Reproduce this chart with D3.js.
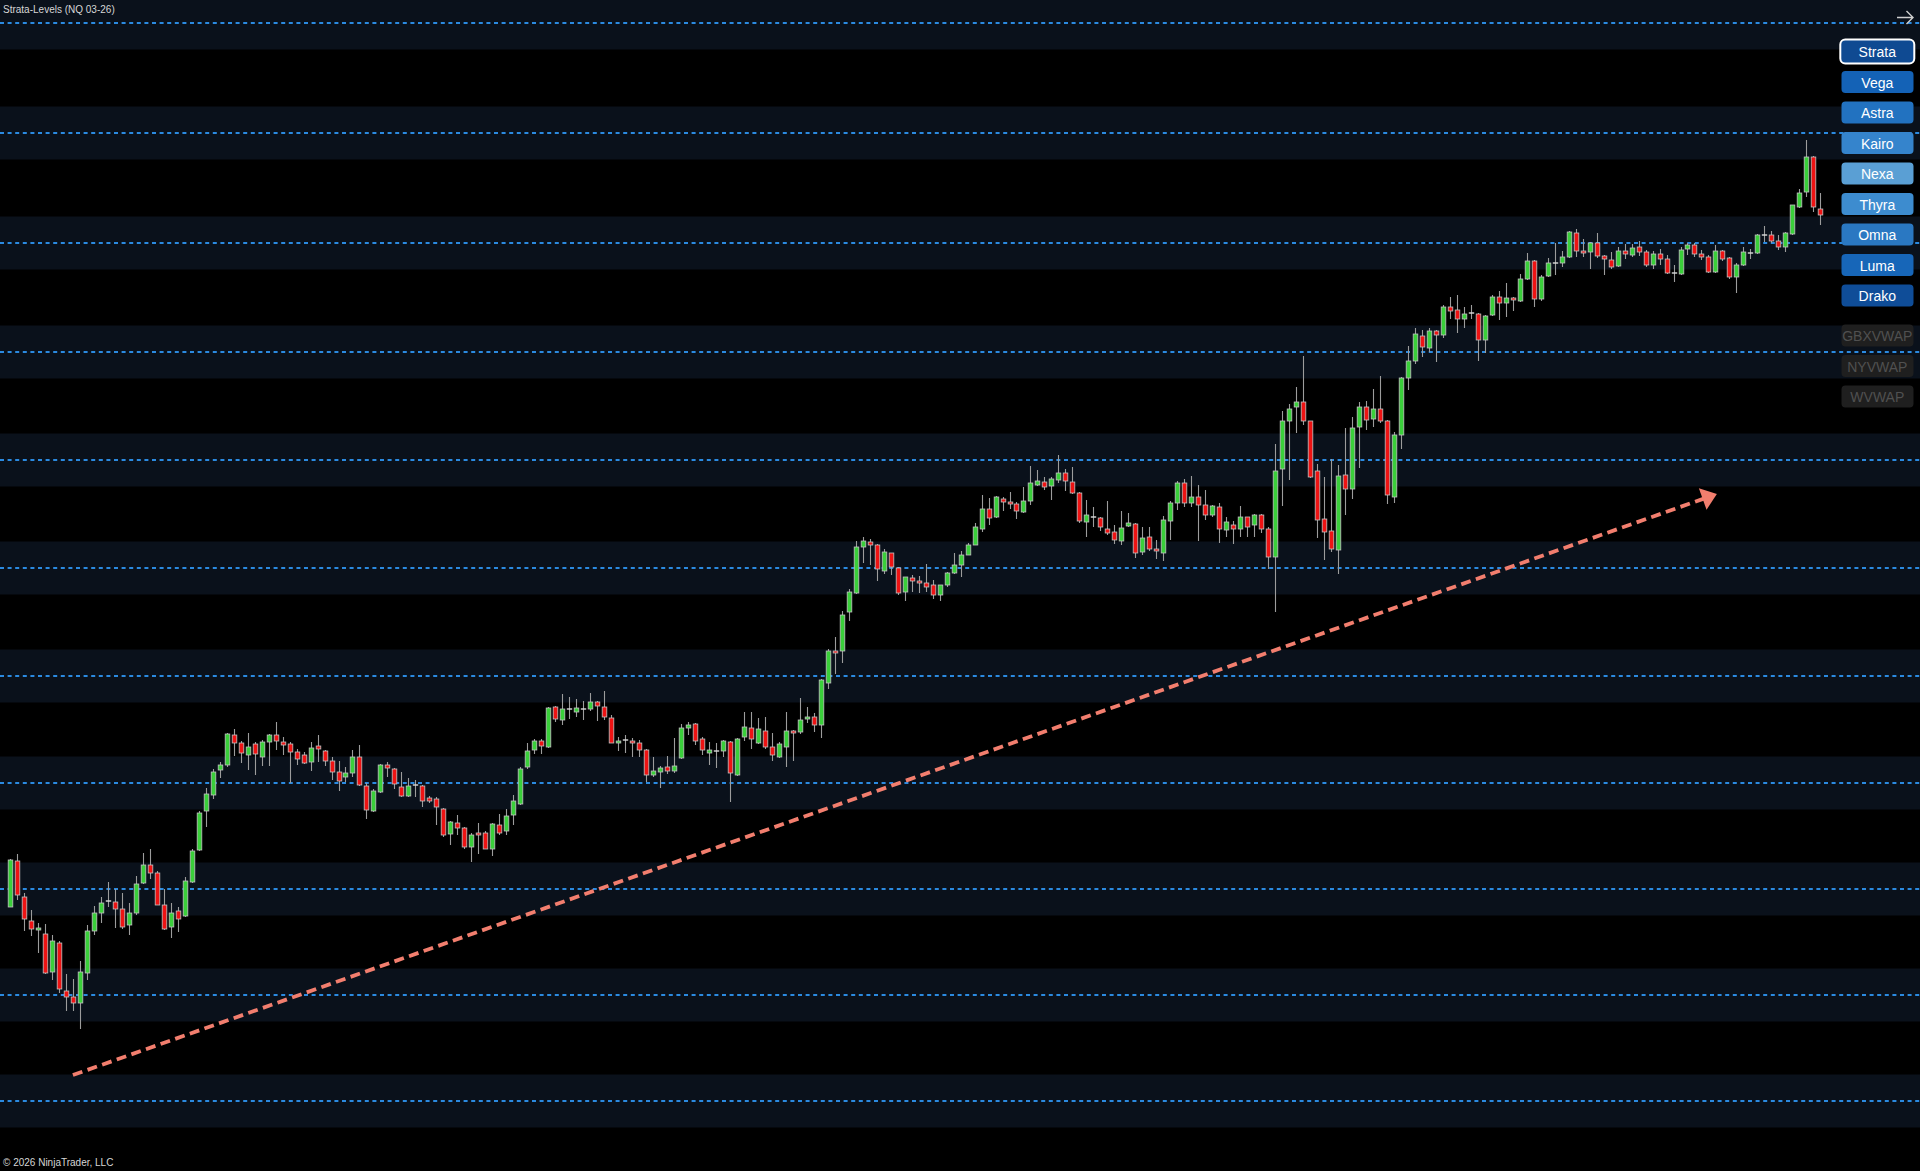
<!DOCTYPE html>
<html><head><meta charset="utf-8">
<script src="https://cdn.jsdelivr.net/npm/d3@7"></script>
<style>html,body{margin:0;padding:0;background:#000;overflow:hidden}</style>
</head><body><svg id="c" width="1920" height="1171"></svg>
<script>
// ---------------- DATA ----------------
const title = "Strata-Levels (NQ 03-26)";
const copyright = "\u00A9 2026 NinjaTrader, LLC";
const levels = [26077, 25967, 25857, 25748, 25640, 25532, 25424, 25317, 25211, 25105, 24999];
const zoneHalf = 26.5;

const open = [25193,25239,25203,25179,25170,25166,25128,25157,25109,25103,
25097,25127,25169,25187,25199,25198,25191,25175,25187,25217,
25235,25227,25195,25173,25189,25184,25218,25250,25289,25305,
25330,25335,25365,25357,25345,25356,25343,25358,25365,25358,
25356,25348,25345,25338,25354,25349,25339,25328,25323,25327,
25343,25314,25289,25308,25335,25331,25313,25304,25315,25314,
25302,25301,25291,25266,25277,25272,25253,25267,25267,25251,
25275,25269,25285,25296,25333,25350,25359,25353,25393,25380,
25391,25388,25391,25391,25398,25393,25382,25357,25360,25359,
25357,25350,25325,25328,25333,25329,25342,25372,25376,25361,
25347,25349,25349,25358,25325,25363,25372,25357,25369,25353,
25343,25353,25369,25368,25381,25383,25375,25417,25449,25449,
25488,25507,25553,25558,25555,25529,25547,25532,25508,25522,
25519,25517,25515,25505,25515,25527,25535,25545,25555,25571,
25591,25583,25601,25598,25596,25588,25599,25615,25618,25614,
25620,25627,25618,25607,25578,25583,25582,25571,25568,25559,
25574,25576,25548,25563,25551,25547,25579,25597,25617,25597,
25603,25595,25585,25593,25570,25575,25571,25583,25575,25585,
25571,25543,25631,25679,25693,25698,25679,25629,25581,25569,
25550,25625,25611,25673,25693,25681,25691,25679,25603,25665,
25722,25739,25764,25752,25769,25765,25793,25790,25781,25787,
25786,25760,25785,25803,25797,25802,25799,25821,25839,25801,
25824,25837,25837,25843,25867,25849,25848,25857,25844,25840,
25834,25849,25845,25853,25848,25835,25846,25841,25827,25826,
25851,25855,25846,25843,25828,25849,25842,25823,25835,25847,
25847,25865,25865,25859,25853,25866,25893,25908,25943,25891];

const high = [25241,25246,25207,25190,25177,25176,25165,25159,25126,25121,
25139,25175,25194,25203,25218,25211,25207,25197,25224,25247,
25251,25229,25211,25197,25193,25223,25251,25289,25312,25331,
25338,25367,25371,25359,25367,25358,25360,25366,25378,25363,
25358,25351,25348,25358,25365,25350,25343,25339,25333,25350,
25355,25317,25311,25336,25338,25332,25328,25322,25320,25315,
25304,25303,25292,25279,25285,25273,25267,25277,25269,25277,
25286,25291,25305,25333,25357,25361,25361,25393,25394,25406,
25403,25401,25399,25407,25399,25409,25385,25363,25365,25362,
25360,25351,25343,25334,25344,25362,25376,25378,25377,25363,
25358,25357,25360,25359,25362,25388,25388,25382,25383,25367,
25358,25388,25370,25402,25393,25387,25421,25451,25463,25489,
25511,25559,25563,25561,25556,25551,25547,25533,25523,25525,
25524,25536,25520,25515,25528,25547,25549,25557,25577,25605,
25602,25604,25603,25608,25598,25613,25634,25630,25623,25623,
25645,25631,25633,25608,25600,25593,25583,25599,25575,25589,
25587,25577,25573,25573,25560,25584,25599,25619,25621,25624,
25615,25610,25595,25597,25583,25579,25594,25583,25586,25586,
25573,25656,25689,25696,25713,25744,25679,25636,25623,25641,
25635,25672,25683,25698,25699,25711,25724,25680,25668,25723,
25754,25772,25770,25772,25770,25795,25803,25805,25793,25795,
25787,25785,25805,25809,25817,25803,25826,25847,25840,25825,
25842,25857,25849,25869,25871,25861,25858,25867,25845,25848,
25853,25856,25856,25859,25850,25849,25851,25845,25835,25853,
25857,25857,25850,25845,25855,25850,25843,25837,25853,25851,
25866,25874,25869,25865,25868,25895,25911,25960,25944,25907];

const low = [25193,25200,25169,25164,25147,25126,25120,25107,25089,25089,
25071,25120,25165,25177,25193,25172,25171,25165,25185,25216,
25221,25195,25170,25162,25168,25183,25217,25249,25273,25301,
25322,25333,25344,25337,25330,25325,25334,25334,25350,25345,
25317,25335,25336,25329,25338,25334,25320,25309,25318,25323,
25314,25281,25288,25307,25323,25311,25303,25303,25303,25293,
25297,25275,25263,25255,25265,25251,25238,25246,25251,25244,
25265,25265,25275,25295,25331,25346,25346,25352,25378,25375,
25381,25383,25380,25389,25379,25380,25357,25349,25347,25343,
25343,25318,25323,25312,25326,25327,25341,25365,25355,25345,
25335,25332,25343,25298,25324,25359,25351,25356,25351,25339,
25342,25333,25339,25366,25377,25368,25362,25411,25426,25437,
25479,25506,25537,25535,25519,25526,25525,25505,25499,25508,
25507,25508,25501,25499,25513,25526,25523,25545,25555,25568,
25575,25582,25589,25591,25581,25587,25595,25614,25610,25600,
25617,25609,25606,25577,25563,25573,25569,25565,25556,25555,
25573,25542,25545,25549,25541,25539,25560,25590,25593,25593,
25559,25580,25583,25557,25563,25556,25563,25563,25563,25567,
25531,25488,25594,25620,25667,25675,25622,25562,25540,25548,
25526,25585,25601,25632,25670,25673,25677,25596,25597,25651,
25710,25736,25743,25748,25738,25762,25781,25767,25772,25781,
25739,25747,25784,25780,25783,25789,25798,25820,25793,25799,
25823,25825,25833,25842,25843,25843,25831,25842,25825,25831,
25833,25841,25843,25844,25833,25831,25835,25826,25818,25825,
25845,25843,25840,25827,25827,25839,25821,25807,25834,25841,
25846,25858,25857,25850,25848,25865,25892,25903,25888,25875];

const close = [25240,25205,25181,25171,25172,25127,25159,25111,25103,25097,
25128,25169,25187,25197,25199,25191,25173,25187,25216,25235,
25227,25195,25171,25187,25181,25219,25249,25287,25306,25328,
25335,25366,25357,25347,25353,25346,25358,25365,25359,25355,
25348,25341,25337,25352,25351,25339,25328,25319,25327,25343,
25315,25290,25309,25335,25332,25316,25304,25314,25315,25299,
25299,25293,25265,25278,25272,25253,25265,25265,25251,25276,
25267,25284,25299,25331,25349,25359,25354,25392,25381,25391,
25391,25392,25391,25398,25394,25383,25357,25359,25360,25357,
25350,25325,25329,25332,25329,25334,25372,25375,25359,25350,
25350,25349,25359,25327,25361,25373,25361,25371,25353,25345,
25356,25369,25367,25380,25383,25375,25420,25449,25447,25485,
25508,25553,25559,25555,25531,25548,25533,25507,25523,25519,
25517,25513,25505,25515,25527,25535,25545,25555,25573,25591,
25582,25603,25598,25596,25589,25599,25617,25619,25613,25621,
25627,25619,25607,25579,25585,25583,25573,25567,25560,25572,
25577,25547,25562,25551,25549,25580,25597,25617,25597,25603,
25595,25585,25594,25571,25578,25571,25583,25573,25585,25571,
25543,25629,25679,25691,25698,25679,25623,25580,25568,25551,
25624,25611,25672,25693,25680,25691,25679,25605,25665,25722,
25739,25766,25753,25769,25765,25793,25789,25781,25786,25787,
25760,25784,25803,25797,25802,25800,25821,25839,25801,25823,
25837,25837,25843,25868,25849,25847,25857,25844,25841,25833,
25849,25846,25852,25848,25835,25846,25841,25827,25827,25850,
25855,25846,25843,25828,25849,25841,25823,25835,25848,25847,
25865,25865,25859,25853,25867,25895,25907,25943,25893,25885];

const toolButtons = ["Strata","Vega","Astra","Kairo","Nexa","Thyra","Omna","Luma","Drako"];
const vwapButtons = ["GBXVWAP","NYVWAP","WVWAP"];
const trendStart = {i: 9, p: 25025};
const trendEnd = {i: 244.2, p: 25606};

// ---------------- STYLE ----------------
const W = 1920, H = 1171;
const btnFills = ["#0f4a92","#1462b6","#2272c0","#3584cc","#5a9fd4","#3d8ccf","#2a78c2","#1766b8","#0f4d98"];
const upFill = "#3acf3a", downFill = "#ee1313";

const svg = d3.select("#c");
svg.append("rect").attr("width", W).attr("height", H).attr("fill", "#000");

const x = d3.scaleLinear().domain([0, open.length - 1]).range([10, 1820.3]);
const y = d3.scaleLinear().domain([26100 - H, 26100]).range([H, 0]);

// zones
svg.append("g").selectAll("rect").data(levels).join("rect")
  .attr("x", 0).attr("width", W)
  .attr("y", d => y(d + zoneHalf))
  .attr("height", d => y(d - zoneHalf) - y(d + zoneHalf))
  .attr("fill", "#0a111b");

// level lines
svg.append("g").selectAll("line").data(levels).join("line")
  .attr("x1", 0).attr("x2", W)
  .attr("y1", d => y(d)).attr("y2", d => y(d))
  .attr("stroke", "#2b8ae0").attr("stroke-width", 1.8)
  .attr("stroke-dasharray", "4,3.6");

// trend arrow
const ax1 = x(trendStart.i), ay1 = y(trendStart.p);
const ax2 = x(trendEnd.i), ay2 = y(trendEnd.p);
const ang = Math.atan2(ay2 - ay1, ax2 - ax1);
const headLen = 15, headHalf = 11.5;
const bx = ax2 - headLen * Math.cos(ang), by = ay2 - headLen * Math.sin(ang);
svg.append("line")
  .attr("x1", ax1).attr("y1", ay1).attr("x2", bx + 2 * Math.cos(ang)).attr("y2", by + 2 * Math.sin(ang))
  .attr("stroke", "#f27e6e").attr("stroke-width", 3.8).attr("stroke-dasharray", "10,5.5");
svg.append("path")
  .attr("d", `M${ax2},${ay2}L${bx - headHalf * Math.sin(ang)},${by + headHalf * Math.cos(ang)}L${bx + headHalf * Math.sin(ang)},${by - headHalf * Math.cos(ang)}Z`)
  .attr("fill", "#f27e6e");

// candles
const candles = open.map((o, i) => ({i, o, h: high[i], l: low[i], c: close[i]}));
const cg = svg.append("g");
cg.selectAll("line.w").data(candles).join("line").attr("class", "w")
  .attr("x1", d => Math.round(x(d.i)) + 0.5).attr("x2", d => Math.round(x(d.i)) + 0.5)
  .attr("y1", d => y(d.h)).attr("y2", d => y(d.l))
  .attr("stroke", "#9c9c9c").attr("stroke-width", 1.1);
const bw = 4.6;
cg.selectAll("rect.b").data(candles.filter(d => d.o !== d.c)).join("rect").attr("class", "b")
  .attr("x", d => Math.round(x(d.i)) + 0.5 - bw / 2).attr("width", bw)
  .attr("y", d => y(Math.max(d.o, d.c)))
  .attr("height", d => Math.max(1.5, Math.abs(y(d.o) - y(d.c))))
  .attr("fill", d => d.c > d.o ? upFill : downFill)
  .attr("stroke", "#c4c4c4").attr("stroke-width", 0.8);
cg.selectAll("line.d").data(candles.filter(d => d.o === d.c)).join("line").attr("class", "d")
  .attr("x1", d => Math.round(x(d.i)) + 0.5 - bw / 2 - 0.4).attr("x2", d => Math.round(x(d.i)) + 0.5 + bw / 2 + 0.4)
  .attr("y1", d => y(d.o)).attr("y2", d => y(d.o))
  .attr("stroke", "#dcdcdc").attr("stroke-width", 1.4);

// texts
const font = "Arial, 'Liberation Sans', sans-serif";
svg.append("text").attr("x", 3).attr("y", 12.5).text(title)
  .attr("font-family", font).attr("font-size", 10).attr("fill", "#d6d6d6");
svg.append("text").attr("x", 3).attr("y", 1165.5).text(copyright)
  .attr("font-family", font).attr("font-size", 10).attr("fill", "#d6d6d6");

// top-right arrow icon
svg.append("path").attr("d", "M1897,17.5H1913M1906.5,11L1913,17.5L1906.5,24")
  .attr("fill", "none").attr("stroke", "#cfcfcf").attr("stroke-width", 1.4);

// buttons
const bg = svg.append("g");
toolButtons.forEach((name, k) => {
  const cy = 51.5 + 30.5 * k;
  const sel = k === 0;
  bg.append("rect")
    .attr("x", sel ? 1840.3 : 1841.5).attr("width", sel ? 74 : 72)
    .attr("y", cy - (sel ? 12 : 11)).attr("height", sel ? 24 : 22)
    .attr("rx", sel ? 5 : 4)
    .attr("fill", btnFills[k])
    .attr("stroke", sel ? "#ffffff" : "none").attr("stroke-width", sel ? 2 : 0);
  bg.append("text").attr("x", 1877.3).attr("y", cy + 0.5).text(name)
    .attr("text-anchor", "middle").attr("dominant-baseline", "central")
    .attr("font-family", font).attr("font-size", 14).attr("fill", "#ffffff");
});
vwapButtons.forEach((name, j) => {
  const cy = 335.5 + 30.5 * j;
  bg.append("rect").attr("x", 1841.5).attr("width", 72).attr("y", cy - 11).attr("height", 22)
    .attr("rx", 4).attr("fill", "#1f1f1f");
  bg.append("text").attr("x", 1877.3).attr("y", cy + 0.5).text(name)
    .attr("text-anchor", "middle").attr("dominant-baseline", "central")
    .attr("font-family", font).attr("font-size", 14).attr("fill", "#505050");
});
</script>
</body></html>
